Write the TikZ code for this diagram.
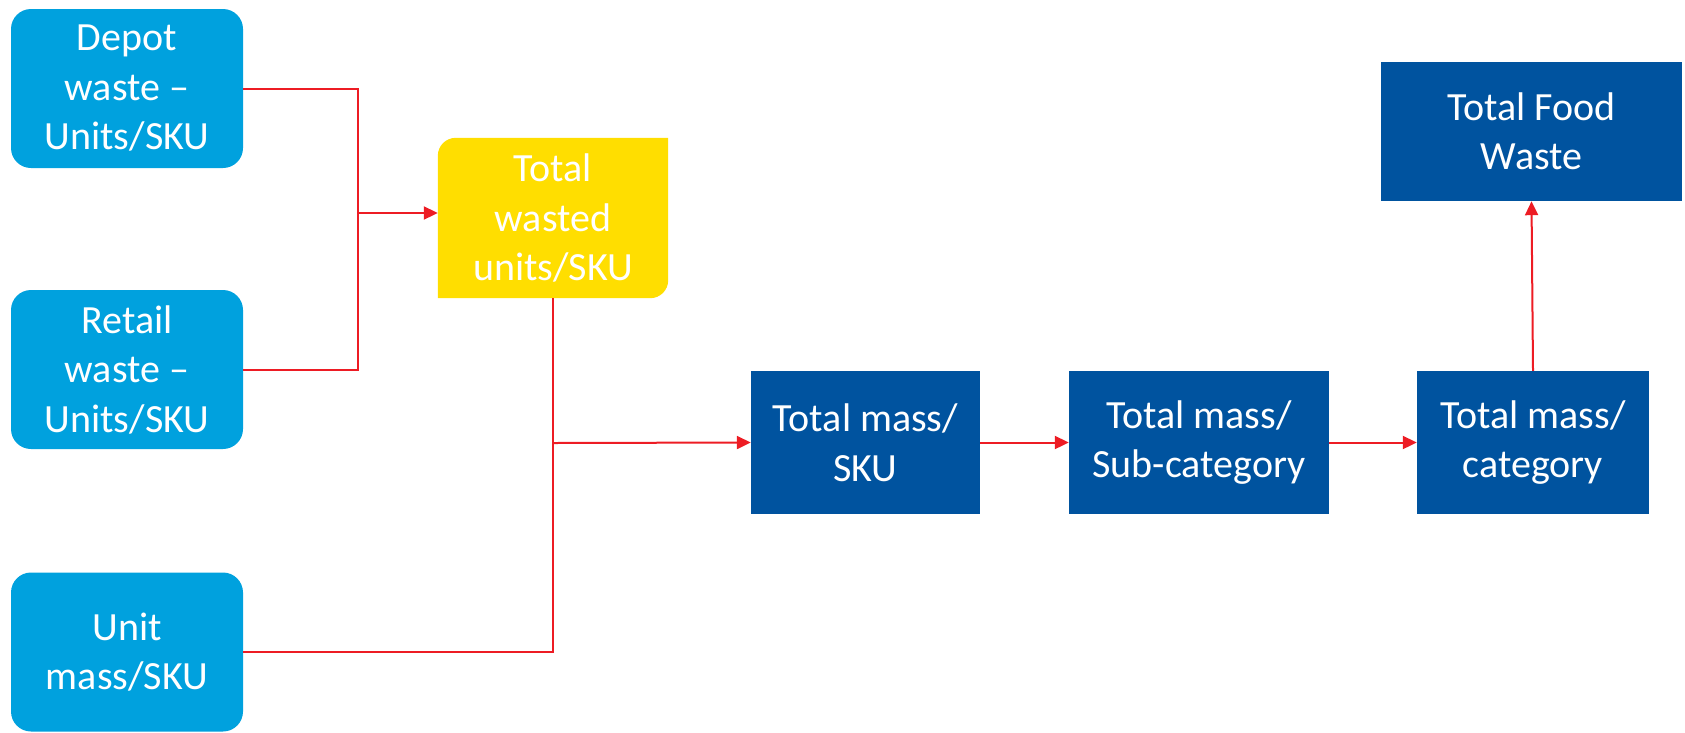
\documentclass[tikz,border=0pt]{standalone}
\usepackage{fontspec}
\setmainfont{Carlito}
\usetikzlibrary{arrows.meta,backgrounds}
\definecolor{lblue}{RGB}{0,161,222}
\definecolor{dblue}{RGB}{0,83,159}
\definecolor{ylw}{RGB}{255,222,0}
\definecolor{lred}{RGB}{237,28,36}
\tikzset{
  txt/.style={text=white, align=center, font=\fontsize{40}{49.5}\selectfont, inner sep=0pt},
  srcbox/.style={txt, fill=lblue, rounded corners=20pt, minimum width=232pt, minimum height=159pt},
  massbox/.style={txt, fill=dblue, minimum height=143pt},
  ybox/.style={txt, minimum width=230pt, minimum height=160pt},
  conn/.style={draw=lred, line width=2pt},
  arr/.style={conn, -{Triangle[length=14pt,width=13pt]}}
}
\begin{document}
\begin{tikzpicture}[x=1pt,y=-1pt]
\useasboundingbox (0,0) rectangle (1685,732);
\node[srcbox] (depot) at (127,88.5) {Depot\\waste --\\Units/SKU};
\node[srcbox] (retail) at (127,369.5) {Retail\\waste --\\Units/SKU};
\node[srcbox] (unit) at (127,652) {Unit\\mass/SKU};
\node[ybox] (total) at (553,218) {Total\\wasted\\units/SKU};
\begin{scope}[on background layer]
\fill[ylw] (total.south west) -- ([yshift=-18pt]total.north west)
  arc[start angle=180,end angle=90,radius=18pt] -- (total.north east)
  -- ([yshift=18pt]total.south east)
  arc[start angle=0,end angle=-90,radius=18pt] -- cycle;
\end{scope}
\node[massbox, minimum width=229pt] (sku) at (865.5,442.5) {Total mass/\\SKU};
\node[massbox, minimum width=260pt] (sub) at (1199,442.5) {Total mass/\\Sub-category};
\node[massbox, minimum width=232pt] (cat) at (1533,442.5) {Total mass/\\category};
\node[massbox, minimum width=301pt, minimum height=139pt] (food) at (1531.5,131.5) {Total Food\\Waste};
\coordinate (j1) at (358,213);
\coordinate (j2) at (553,443);
\draw[conn] (depot.east) -| (j1) |- (retail.east);
\draw[arr] (j1) -- (j1 -| total.west);
\draw[conn] (total.south) -- (total.south |- unit.east) -- (unit.east);
\draw[arr] (j2) -- (sku.west);
\draw[arr] (sku.east) -- (sub.west);
\draw[arr] (sub.east) -- (cat.west);
\draw[arr] (cat.north) -- (food.south);
\end{tikzpicture}
\end{document}
